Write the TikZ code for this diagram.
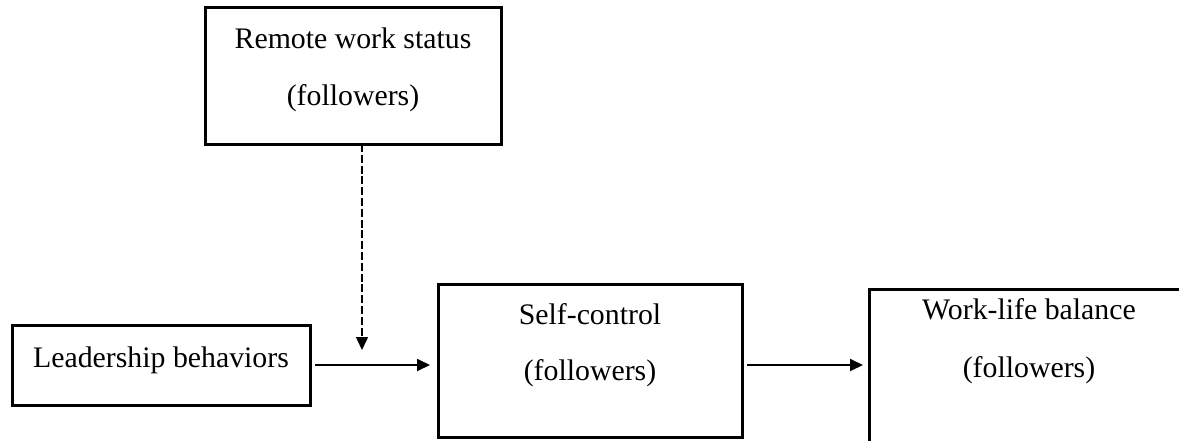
\documentclass[tikz,border=0pt]{standalone}
\usepackage{fontspec}
\setmainfont{Liberation Serif}
\usetikzlibrary{arrows.meta}
\begin{document}
\begin{tikzpicture}[x=0.5pt,y=-0.5pt,
  box/.style={draw, line width=1.5pt, inner sep=0pt, outer sep=0pt},
  lbl/.style={font=\fontsize{14.9}{18}\selectfont, anchor=base, inner sep=0pt},
  conn/.style={line width=0.9pt, -{Triangle[length=6.5pt,width=6pt]}},
  dconn/.style={line width=0.75pt, dash pattern=on 4pt off 1.4pt, -{Triangle[length=6.5pt,width=6pt]}}]
\useasboundingbox (0,0) rectangle (1179,440);
\clip (0,0) rectangle (1179,440);
\fill[white] (0,0) rectangle (1179,440);
% boxes
\node[box, minimum width=148pt, minimum height=68.5pt] (remote) at (353,75.5) {};
\node[box, minimum width=149pt, minimum height=40pt] (lead) at (161,365) {};
\node[box, minimum width=152pt, minimum height=76.5pt] (self) at (590,360.5) {};
\node[box, minimum width=160pt, minimum height=81.5pt] (work) at (1029,370.5) {};
% texts
\node[lbl] (t1) at (353,48) {Remote work status};
\node[lbl] (t1b) at (353,105) {(followers)};
\node[lbl] (t2) at (161,367) {Leadership behaviors};
\node[lbl] (t3) at (590,324) {Self-control};
\node[lbl] (t3b) at (590,380) {(followers)};
\node[lbl] (t4) at (1029,319) {Work-life balance};
\node[lbl] (t4b) at (1029,377) {(followers)};
% connectors
\coordinate (mod) at (362,350);
\draw[dconn] (remote.south -| mod) -- (mod);
\draw[conn, shorten <=2.5pt, shorten >=4pt] (lead.east) -- (lead.east -| self.west);
\draw[conn, shorten <=2.5pt, shorten >=3pt] (lead.east -| self.east) -- (lead.east -| work.west);
\end{tikzpicture}
\end{document}
